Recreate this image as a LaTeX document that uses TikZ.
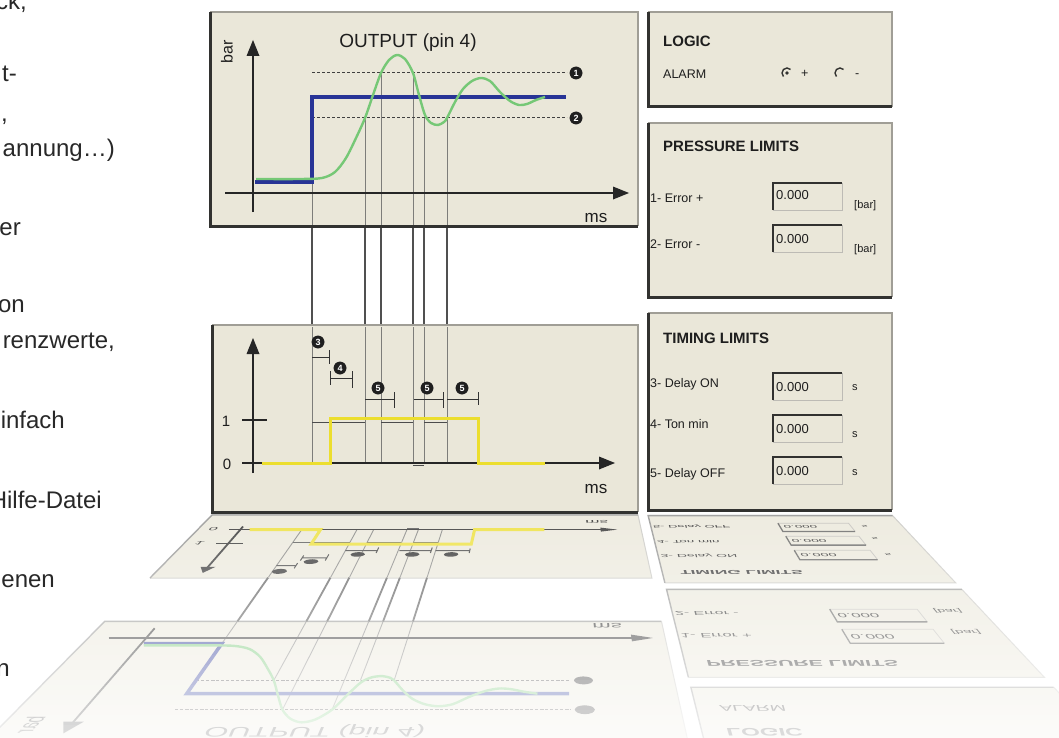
\documentclass[tikz,border=0pt]{standalone}
\usepackage{fontspec}
\setmainfont{Liberation Sans}
\usepgfmodule{nonlineartransformations}

\definecolor{panelbg}{RGB}{234,231,217}
\definecolor{edgedark}{RGB}{50,50,48}
\definecolor{edgelight}{RGB}{160,158,150}
\definecolor{sigblue}{RGB}{40,52,150}
\definecolor{siggreen}{RGB}{118,200,118}
\definecolor{sigyellow}{RGB}{236,222,46}
\definecolor{guidecol}{RGB}{125,125,122}
\definecolor{guidedark}{RGB}{80,80,80}
\definecolor{txtcol}{RGB}{30,30,30}
\definecolor{fragcol}{RGB}{40,40,40}

\makeatletter
\def\reflTransform{%
  \begingroup
    \edef\rf@x{\pgf@sys@tonumber\pgf@x}%
    \edef\rf@y{\pgf@sys@tonumber\pgf@y}%
    \pgfmathsetmacro\rf@D{512+(\rf@y)}%
    \pgfmathsetmacro\rf@S{1/(1-0.000808*\rf@D)}%
    \pgfmathsetmacro\rf@X{560+(\rf@x-560)*\rf@S}%
    \pgfmathsetmacro\rf@Y{-515-0.286*\rf@D*\rf@S}%
    \global\let\rfGX\rf@X
    \global\let\rfGY\rf@Y
  \endgroup
  \pgf@x=\rfGX pt\relax
  \pgf@y=\rfGY pt\relax
}
\makeatother

\newcommand\fs[1]{\fontsize{#1}{#1}\selectfont}

\tikzset{
  lightedge/.style={draw=edgelight, line width=1.2pt},
  darkedge/.style={draw=edgedark, line width=3pt},
  axisline/.style={draw=black!85, line width=1.8pt},
  tipfill/.style={fill=black!85},
  guidein/.style={draw=guidecol, line width=0.9pt},
  guidegap/.style={draw=guidedark, line width=1.8pt},
  dashref/.style={draw=black!75, line width=1pt, dash pattern=on 3pt off 2pt},
  bluesig/.style={draw=sigblue, line width=3.5pt},
  greensig/.style={draw=siggreen, line width=2.4pt},
  yellowsig/.style={draw=sigyellow, line width=3pt},
  idealsig/.style={draw=black!70, line width=1pt},
  bracket/.style={draw=black!80, line width=1pt},
  badgefill/.style={fill=black!88},
  badgenum/.style={text=white, font=\fs{9}\bfseries, inner sep=0pt},
  boxdark/.style={draw=edgedark, line width=2pt},
  boxlight/.style={draw=edgelight!70, line width=0.8pt},
  frag/.style={text=fragcol, font=\fs{24}, anchor=base east, inner sep=0pt},
  gtext/.style={text=txtcol, inner sep=0pt},
  ptitle/.style={text=txtcol, font=\fs{15}\bfseries, anchor=base west, inner sep=0pt},
  plabel/.style={text=txtcol, font=\fs{12.5}, anchor=base west, inner sep=0pt},
  pval/.style={text=txtcol, font=\fs{13}, anchor=base west, inner sep=0pt},
  punit/.style={text=txtcol, font=\fs{11}, anchor=base west, inner sep=0pt},
}

\newcommand\panel[4]{%
  \fill[panelbg] (#1,#2) -- (#3,#2) -- (#3,#4) -- (#1,#4) -- cycle;
  \draw[lightedge] (#1,#2) -- (#3,#2) -- (#3,#4);
  \draw[darkedge] (#1,#2) -- (#1,#4) -- (#3,#4);
}
\newcommand\uptip[2]{\fill[tipfill] (#1,#2) -- (#1-6.5,#2+16) -- (#1+6.5,#2+16) -- cycle;}
\newcommand\righttip[2]{\fill[tipfill] (#1,#2) -- (#1-16,#2-6.5) -- (#1-16,#2+6.5) -- cycle;}
\newcommand\badgeG[2]{\fill[badgefill] plot[smooth cycle] coordinates {(#1+6.5,#2) (#1+4.6,#2+4.6) (#1,#2+6.5) (#1-4.6,#2+4.6) (#1-6.5,#2) (#1-4.6,#2-4.6) (#1,#2-6.5) (#1+4.6,#2-4.6)};}

\newcommand\topG{%
  \panel{210}{12}{638}{226}%
  \foreach \gx/\gy in {312/182,365/118,381/73,413/73,424/118,447/118}{\draw[guidein] (\gx,\gy) -- (\gx,225);}%
  \draw[dashref] (312,73) -- (567,73);
  \draw[dashref] (312,118) -- (567,118);
  \draw[axisline] (253,212) -- (253,52);
  \uptip{253}{40}
  \draw[axisline] (225,193) -- (615,193);
  \righttip{629}{193}
  \draw[bluesig] (255,182) -- (312,182) -- (312,97) -- (566,97);
  \draw[greensig] plot[smooth] coordinates {(256,179) (300,179) (322,178) (335,172) (346,158) (356,138) (365,118) (373,95) (381,73) (389,60) (397,55) (405,59) (413,73) (419,95) (425,115) (431,123) (438,125) (444,122) (447,118) (455,102) (463,89) (472,81) (481,78) (490,81) (500,92) (510,101) (519,105) (527,104) (536,100) (545,97)};
  \badgeG{576}{73}\badgeG{576}{118}%
}

\newcommand\midG{%
  \panel{212}{325}{638}{512}%
  \foreach \gx in {312,365,381,413,424,447}{\draw[guidein] (\gx,327) -- (\gx,463);}%
  \draw[idealsig] (312,422) -- (365,422) (381,422) -- (413,422) (424,422) -- (447,422) (413,465.5) -- (424,465.5);
  \draw[axisline] (253,473) -- (253,350);
  \uptip{253}{338}
  \draw[axisline] (242,463) -- (602,463);
  \righttip{615}{463}
  \draw[axisline] (242,420) -- (267,420);
  \draw[yellowsig] (262,463) -- (330,463) -- (330,418) -- (478,418) -- (478,463) -- (545,463);
  \draw[bracket] (312,357) -- (329,357) (329,350) -- (329,364);
  \draw[bracket] (330,378) -- (352,378) (330,371) -- (330,385) (352,371) -- (352,388);
  \draw[bracket] (365,399) -- (394,399) (394,392) -- (394,408);
  \draw[bracket] (414,399) -- (443,399) (443,392) -- (443,408);
  \draw[bracket] (447,399) -- (478,399) (478,392) -- (478,405);
  \badgeG{318}{342}\badgeG{340}{368}\badgeG{378}{388}\badgeG{427}{388}\badgeG{462}{388}%
}

\newcommand\gapG{\foreach \gx in {312,365,381,413,424,447}{\draw[guidegap] (\gx,226) -- (\gx,326);}}

\newcommand\tboxG[1]{%
  \draw[boxlight] (842,#1) -- (842,#1+27) -- (773,#1+27);
  \draw[boxdark] (773,#1+27) -- (773,#1) -- (842,#1);
}
\newcommand\rightG{%
  \panel{648}{12}{892}{107}\panel{648}{123}{892}{297}\panel{648}{313}{892}{510}%
  \foreach \by in {183,225,373,415,457}{\tboxG{\by}}%
}

% mirrored (reflected) text: x, y, options, text, post-options
\newcommand\mtext[5]{%
  \pgfmathsetmacro\mtD{512-(#2)}%
  \pgfmathsetmacro\mtS{1/(1-0.000808*\mtD)}%
  \pgfmathsetmacro\mtX{560+((#1)-560)*\mtS}%
  \pgfmathsetmacro\mtY{515+0.286*\mtD*\mtS}%
  \pgfmathsetmacro\mtYS{-0.286*\mtS*\mtS}%
  \pgfmathsetmacro\mtSl{((#1)-560)*0.002825*0.286*\mtS}%
  \begin{scope}[shift={(\mtX,\mtY)}]
    \node[gtext, #3, xscale=\mtS, yscale=\mtYS, xslant=\mtSl, #5] at (0,0) {#4};
  \end{scope}%
}

\begin{document}
\begin{tikzpicture}[x=1pt, y=-1pt]
\useasboundingbox (0,0) rectangle (1059,738);
\clip (0,0) rectangle (1059,738);
\fill[white] (0,0) rectangle (1059,738);

% ---------- reflection ----------
\begin{scope}
  \tikzset{darkedge/.style={draw=edgedark!55, line width=1.4pt},
           lightedge/.style={draw=edgelight!60, line width=1pt},
           boxdark/.style={draw=edgedark!80, line width=1.3pt}}
  \pgftransformnonlinear{\reflTransform}
  \topG
  \midG
  \gapG
  \rightG
\end{scope}
\mtext{408}{48}{font=\fs{19}, anchor=base}{OUTPUT (pin 4)}{}
\mtext{596}{222}{font=\fs{17}, anchor=base}{ms}{}
\mtext{596}{493}{font=\fs{17}, anchor=base}{ms}{}
\mtext{227}{52}{font=\fs{16}}{bar}{rotate=90}
\mtext{226}{421}{font=\fs{15}}{1}{}
\mtext{227}{464}{font=\fs{15}}{0}{}
\mtext{663}{47}{font=\fs{15}\bfseries, anchor=base west}{LOGIC}{}
\mtext{663}{79}{font=\fs{12.5}, anchor=base west}{ALARM}{}
\mtext{663}{152}{font=\fs{15}\bfseries, anchor=base west}{PRESSURE LIMITS}{}
\mtext{650}{202}{font=\fs{12.5}, anchor=base west}{1- Error +}{}
\mtext{650}{248}{font=\fs{12.5}, anchor=base west}{2- Error -}{}
\mtext{776}{199}{font=\fs{13}, anchor=base west}{0.000}{}
\mtext{776}{243}{font=\fs{13}, anchor=base west}{0.000}{}
\mtext{854}{208}{font=\fs{11}, anchor=base west}{[bar]}{}
\mtext{854}{252}{font=\fs{11}, anchor=base west}{[bar]}{}
\mtext{663}{343}{font=\fs{15}\bfseries, anchor=base west}{TIMING LIMITS}{}
\mtext{650}{387}{font=\fs{12.5}, anchor=base west}{3- Delay ON}{}
\mtext{650}{428}{font=\fs{12.5}, anchor=base west}{4- Ton min}{}
\mtext{650}{477}{font=\fs{12.5}, anchor=base west}{5- Delay OFF}{}
\mtext{776}{391}{font=\fs{13}, anchor=base west}{0.000}{}
\mtext{776}{433}{font=\fs{13}, anchor=base west}{0.000}{}
\mtext{776}{475}{font=\fs{13}, anchor=base west}{0.000}{}
\mtext{852}{390}{font=\fs{11}, anchor=base west}{s}{}
\mtext{852}{437}{font=\fs{11}, anchor=base west}{s}{}
\mtext{852}{475}{font=\fs{11}, anchor=base west}{s}{}
% fading of the reflection
\foreach \i in {0,...,44}{%
  \pgfmathsetmacro\bop{0.2+0.66*\i/44}
  \fill[white, opacity=\bop] (0,{515+5*\i}) rectangle (1059,{520+5*\i});
}

% ---------- main panels ----------
\gapG
\topG
\midG
\rightG
% radio buttons
\draw[edgedark, line width=1.4pt] (787,73) ++(-45:5) arc (-45:-225:5);
\fill[edgedark] (787,73) circle (1.8);
\draw[edgedark, line width=1.4pt] (840,73) ++(-45:5) arc (-45:-225:5);

% ---------- texts ----------
\node[gtext, font=\fs{19}, anchor=base] (out) at (408,48) {OUTPUT (pin 4)};
\node[gtext, font=\fs{16}, rotate=90] (bar) at (227,52) {bar};
\node[gtext, font=\fs{17}, anchor=base] (ms1) at (596,222) {ms};
\node[gtext, font=\fs{17}, anchor=base] (ms2) at (596,493) {ms};
\node[gtext, font=\fs{15}] (one) at (226,421) {1};
\node[gtext, font=\fs{15}] (zero) at (227,464) {0};

\node[badgenum] (b1) at (576,73) {1};
\node[badgenum] (b2) at (576,118) {2};
\node[badgenum] (b3) at (318,342) {3};
\node[badgenum] (b4) at (340,368) {4};
\node[badgenum] (b5a) at (378,388) {5};
\node[badgenum] (b5b) at (427,388) {5};
\node[badgenum] (b5c) at (462,388) {5};

\node[ptitle] (logic) at (663,47) {LOGIC};
\node[plabel] (alarm) at (663,79) {ALARM};
\node[plabel] (rplus) at (801,78) {+};
\node[plabel] (rminus) at (855,78) {-};
\node[ptitle] (press) at (663,152) {PRESSURE LIMITS};
\node[plabel] (e1) at (650,202) {1- Error +};
\node[pval] (v1) at (776,199) {0.000};
\node[punit] (u1) at (854,208) {[bar]};
\node[plabel] (e2) at (650,248) {2- Error -};
\node[pval] (v2) at (776,243) {0.000};
\node[punit] (u2) at (854,252) {[bar]};
\node[ptitle] (timing) at (663,343) {TIMING LIMITS};
\node[plabel] (t3) at (650,387) {3- Delay ON};
\node[pval] (v3) at (776,391) {0.000};
\node[punit] (u3) at (852,390) {s};
\node[plabel] (t4) at (650,428) {4- Ton min};
\node[pval] (v4) at (776,433) {0.000};
\node[punit] (u4) at (852,437) {s};
\node[plabel] (t5) at (650,477) {5- Delay OFF};
\node[pval] (v5) at (776,475) {0.000};
\node[punit] (u5) at (852,475) {s};

% left text fragments (cut by the page edge, as in the reference)
\node[frag] (f1) at (27,10) {ck,};
\node[frag] (f2) at (17,82) {t-};
\node[frag] (f3) at (8,122) {l,};
\node[frag] (f4) at (115,157) {annung…)};
\node[frag] (f5) at (21,235) {er};
\node[frag] (f6) at (25,312) {on};
\node[frag] (f7) at (115,348) {renzwerte,};
\node[frag] (f8) at (65,428) {infach};
\node[frag] (f9) at (102,508) {Hilfe-Datei};
\node[frag] (f10) at (55,587) {enen};
\node[frag] (f11) at (10,676) {n};
\end{tikzpicture}
\end{document}
